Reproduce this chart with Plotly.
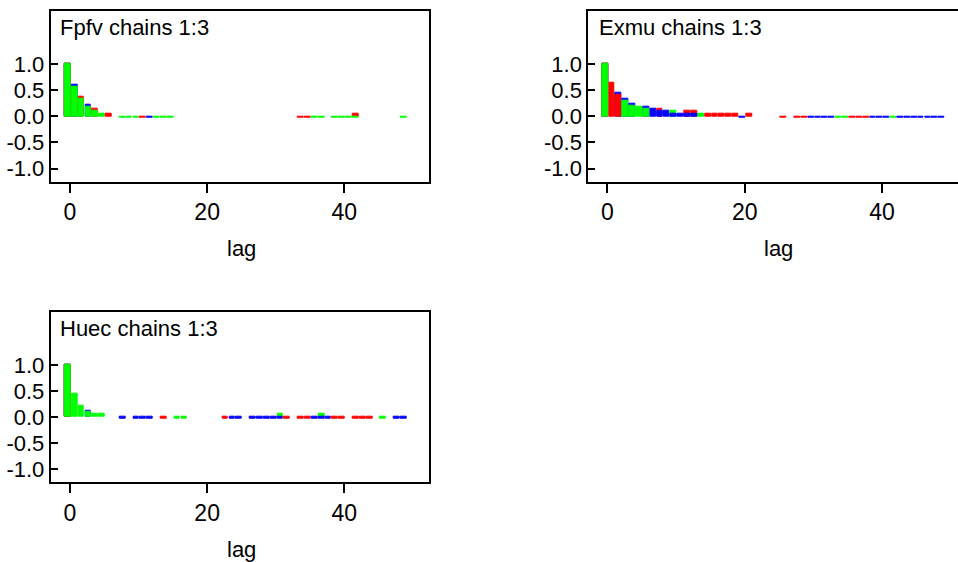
import plotly.graph_objects as go

# ---------------- data: autocorrelation by lag, (lag, acf) per chain ----------------
lags = list(range(50))
chain_names = ["chain 1", "chain 2", "chain 3"]
chain_colors = ["#0000FF", "#FF0000", "#00FF00"]
titles = ["Fpfv chains 1:3", "Exmu chains 1:3", "Huec chains 1:3"]
y_tick_vals = [-1.0, -0.5, 0.0, 0.5, 1.0]
y_tick_text = ["-1.0", "-0.5", "0.0", "0.5", "1.0"]
x_tick_vals = [0, 20, 40]
x_tick_text = ["0", "20", "40"]

fpfv_chain1 = [(0, 1.0), (1, 0.60), (3, 0.22), (12, -0.03)]
fpfv_chain2 = [(0, 1.0), (2, 0.37), (4, 0.14), (6, 0.06), (11, -0.03),
               (34, -0.03), (35, -0.03), (42, 0.06)]
fpfv_chain3 = [(0, 1.0), (1, 0.56), (2, 0.33), (3, 0.18), (4, 0.10), (5, 0.06),
               (8, -0.03), (9, -0.03), (10, -0.03), (13, -0.03), (14, -0.03),
               (15, -0.03), (36, -0.03), (37, -0.03), (39, -0.03), (40, -0.03),
               (41, -0.03), (42, -0.03), (49, -0.03)]

exmu_chain1 = [(0, 1.0), (2, 0.45), (3, 0.33), (4, 0.25), (6, 0.18), (7, 0.14),
               (8, 0.10), (9, 0.10), (10, 0.06), (11, 0.06), (12, 0.06), (13, 0.06),
               (20, -0.03), (30, -0.03), (31, -0.03), (32, -0.03), (33, -0.03),
               (39, -0.03), (40, -0.03), (41, -0.03), (43, -0.03), (44, -0.03),
               (45, -0.03), (46, -0.03), (47, -0.03), (48, -0.03), (49, -0.03)]
exmu_chain2 = [(0, 1.0), (1, 0.64), (2, 0.41), (8, 0.14), (12, 0.10), (13, 0.10),
               (15, 0.06), (16, 0.06), (17, 0.06), (18, 0.06), (19, 0.06), (21, 0.06),
               (26, -0.03), (28, -0.03), (29, -0.03), (36, -0.03), (37, -0.03),
               (38, -0.03)]
exmu_chain3 = [(0, 1.0), (3, 0.29), (4, 0.21), (5, 0.18), (6, 0.14), (10, 0.10),
               (14, 0.06), (34, -0.03), (35, -0.03), (42, -0.03)]

huec_chain1 = [(0, 1.0), (3, 0.13), (8, -0.03), (10, -0.03), (11, -0.03), (12, -0.03),
               (24, -0.03), (25, -0.03), (27, -0.03), (28, -0.03), (29, -0.03),
               (30, -0.03), (31, -0.03), (36, -0.03), (37, -0.03), (38, -0.03),
               (48, -0.03), (49, -0.03)]
huec_chain2 = [(0, 1.0), (14, -0.03), (23, -0.03), (32, -0.03), (34, -0.03),
               (35, -0.03), (39, -0.03), (40, -0.03), (42, -0.03), (43, -0.03),
               (44, -0.03)]
huec_chain3 = [(0, 1.0), (1, 0.44), (2, 0.21), (3, 0.10), (4, 0.06), (5, 0.06),
               (16, -0.03), (17, -0.03), (31, 0.06), (37, 0.06), (46, -0.03)]

panels = [
    [fpfv_chain1, fpfv_chain2, fpfv_chain3],
    [exmu_chain1, exmu_chain2, exmu_chain3],
    [huec_chain1, huec_chain2, huec_chain3],
]

# ---------------- layout geometry (pixels) ----------------
W, H = 958, 562
FONT = "Liberation Sans, Arial, sans-serif"
boxes = [
    dict(l=50.7, r=429.0, t=10.7, b=181.7, xr=[-2.81, 52.35]),
    dict(l=588.3, r=958.0, t=10.7, b=181.7, xr=[-2.77, 51.05]),
    dict(l=50.7, r=429.0, t=311.7, b=482.3, xr=[-2.81, 52.35]),
]
y_range = [-1.25, 2.02]

fig = go.Figure()

for p, chains in enumerate(panels):
    ax = "" if p == 0 else str(p + 1)
    # per lag, draw the largest magnitude first so smaller ones stay visible
    per_lag = {}
    for c, data in enumerate(chains):
        for lag, v in data:
            per_lag.setdefault(lag, []).append((c, v))
    for rank in range(3):
        xs, ys, cols = [], [], []
        for lag in lags:
            entries = sorted(per_lag.get(lag, []), key=lambda e: -abs(e[1]))
            if rank < len(entries):
                c, v = entries[rank]
                xs.append(lag)
                ys.append(v)
                cols.append(chain_colors[c])
        fig.add_trace(go.Bar(
            x=xs, y=ys, width=0.85, offset=-0.78, opacity=1,
            marker=dict(color=cols, line=dict(color=cols, width=1)),
            xaxis="x" + ax, yaxis="y" + ax, showlegend=False, hoverinfo="skip",
        ))

    b = boxes[p]
    xdom = [b["l"] / W, b["r"] / W]
    ydom = [1 - b["b"] / H, 1 - b["t"] / H]
    fig.update_layout(**{
        "xaxis" + ax: dict(
            domain=xdom, range=b["xr"], anchor="y" + ax,
            tickvals=x_tick_vals, ticktext=x_tick_text,
            ticks="outside", ticklen=9, tickwidth=2, tickcolor="black",
            showline=True, mirror=True, linecolor="black", linewidth=2,
            showgrid=False, zeroline=False,
            tickfont=dict(family=FONT, size=23, color="black"),
        ),
        "yaxis" + ax: dict(
            domain=ydom, range=y_range, anchor="x" + ax,
            tickvals=y_tick_vals, ticktext=y_tick_text,
            ticks="inside", ticklen=7, tickwidth=2, tickcolor="black",
            showline=True, mirror=(p != 1), linecolor="black", linewidth=2,
            showgrid=False, zeroline=False,
            tickfont=dict(family=FONT, size=22, color="black"),
        ),
    })

annotations = []
title_pos = [(58, 27.5), (596.5, 27.5), (58, 328.5)]
for (x, y), t in zip(title_pos, titles):
    annotations.append(dict(
        x=x / W, y=1 - y / H, xref="paper", yref="paper", text=t, showarrow=False,
        xanchor="left", yanchor="middle",
        font=dict(family=FONT, size=22, color="black"),
    ))
lag_pos = [(241, 248), (778, 248), (241, 549)]
for x, y in lag_pos:
    annotations.append(dict(
        x=x / W, y=1 - y / H, xref="paper", yref="paper", text="lag", showarrow=False,
        xanchor="center", yanchor="middle",
        font=dict(family=FONT, size=22, color="black"),
    ))

fig.update_layout(
    width=W, height=H, margin=dict(l=0, r=0, t=0, b=0),
    paper_bgcolor="white", plot_bgcolor="white",
    barmode="overlay", bargap=0, annotations=annotations,
)

fig.write_html("out.html")
